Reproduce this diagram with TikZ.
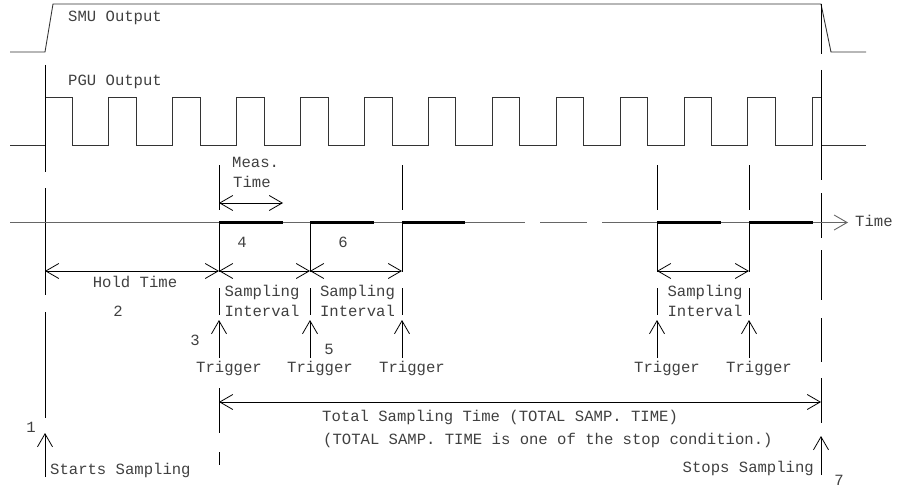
\documentclass[tikz,border=0pt]{standalone}
\usepackage{fontspec}
\setmonofont{Liberation Mono}
\usetikzlibrary{arrows.meta}

\begin{document}
\begin{tikzpicture}[x=1pt, y=-1pt, >={Straight Barb[length=13pt,width=15pt]},
    wire/.style={black!80, line width=0.9pt},
    grid/.style={black, line width=0.8pt},
    meas/.style={black, line width=3.6pt},
    lbl/.style={black!75, font=\ttfamily\fontsize{15.6}{19}\selectfont, inner sep=0pt}]
  \useasboundingbox (0,0) rectangle (906,487);

  % SMU-signal
  \draw[wire] (10,52) -- (45,52) -- (53,4) -- (821,4) -- (831,52) -- (866,52);
  \node[lbl, anchor=mid west] (smu) at (68,19) {SMU Output};

  % PGU-signal
  \draw[wire] (10,145)
    \foreach \k in {0,...,11} {
      -- ({45+63.9*\k},145) -- ({45+63.9*\k},97)
      -- ({72.5+63.9*\k},97) -- ({72.5+63.9*\k},145)}
    -- (812,145) -- (812,97) -- (821,97) -- (821,145) -- (866,145);
  \node[lbl, anchor=mid west] (pgu) at (68,83) {PGU Output};

  % Start og stopp
  \draw[grid, dash pattern=on 107pt off 16pt on 107pt off 17pt on 106pt off 20pt]
    (45,65) -- (45,418);
  \draw[grid, dash pattern=on 50pt off 16pt on 110pt off 13pt on 45pt off 12pt
    on 50pt off 18pt on 44pt off 16pt on 45pt off 10pt] (821,4) -- (821,423);
  \draw[grid, ->] (45,477) -- (45,433);
  \draw[grid, ->] (821,475) -- (821,436);
  \node[lbl] (n1) at (31,427) {1};
  \node[lbl, anchor=mid west] (start) at (50,472) {Starts Sampling};
  \node[lbl, anchor=mid east] (stop) at (814,470) {Stops Sampling};
  \node[lbl] (n7) at (839,480) {7};

  % Tidsakse
  \draw[black!60, line width=0.9pt] (10,222.5) -- (525,222.5);
  \draw[black!60, line width=0.9pt] (540,222.5) -- (587,222.5);
  \draw[black!60, line width=0.9pt, ->] (602,222.5) -- (848,222.5);
  \node[lbl, anchor=mid west] (time) at (855,224) {Time};

  % Maalinger
  \foreach \a/\b in {219/283, 310/374, 402/465, 657/721, 749/813}
    \draw[meas] (\a,222.5) -- (\b,222.5);
  \foreach \t in {219, 402, 657, 749}
    \draw[grid] (\t,165) -- (\t,210);

  % Triggere
  \foreach \t in {219, 310, 402, 657, 749} {
    \draw[grid] (\t,222.5) -- (\t,272);
    \draw[grid] (\t,288) -- (\t,315);
    \draw[grid, ->] (\t,358) -- (\t,320);
    \node[lbl] (trig\t) at (\t+10,368) {Trigger};
  }

  % Intervaller
  \draw[grid, <->] (219,203) -- (283,203);
  \node[lbl, anchor=mid west] (meas1) at (232,165) {Meas.};
  \node[lbl, anchor=mid west] (meas2) at (233,185) {Time};
  \node[lbl] (n4) at (242,242) {4};
  \node[lbl] (n6) at (343,242) {6};

  \draw[grid, <->] (45,271) -- (219,271);
  \draw[grid, <->] (219,271) -- (310,271);
  \draw[grid, <->] (310,271) -- (402,271);
  \draw[grid, <->] (657,271) -- (749,271);
  \node[lbl] (hold) at (135,282) {Hold Time};
  \node[lbl] (n2) at (118,311) {2};
  \foreach \c in {262, 357.5, 705} {
    \node[lbl] (samp\c) at (\c,292) {Sampling};
    \node[lbl] (intv\c) at (\c,311) {Interval};
  }
  \node[lbl] (n3) at (195,340) {3};
  \node[lbl] (n5) at (329,349) {5};

  % Total samplingstid
  \draw[grid] (219,388) -- (219,433);
  \draw[grid] (219,452) -- (219,465);
  \draw[grid, <->] (219,402) -- (821,402);
  \node[lbl, anchor=mid west] (total) at (322,419) {Total Sampling Time (TOTAL SAMP. TIME)};
  \node[lbl, anchor=mid west] (cond) at (323,442) {(TOTAL SAMP. TIME is one of the stop condition.)};
\end{tikzpicture}
\end{document}
